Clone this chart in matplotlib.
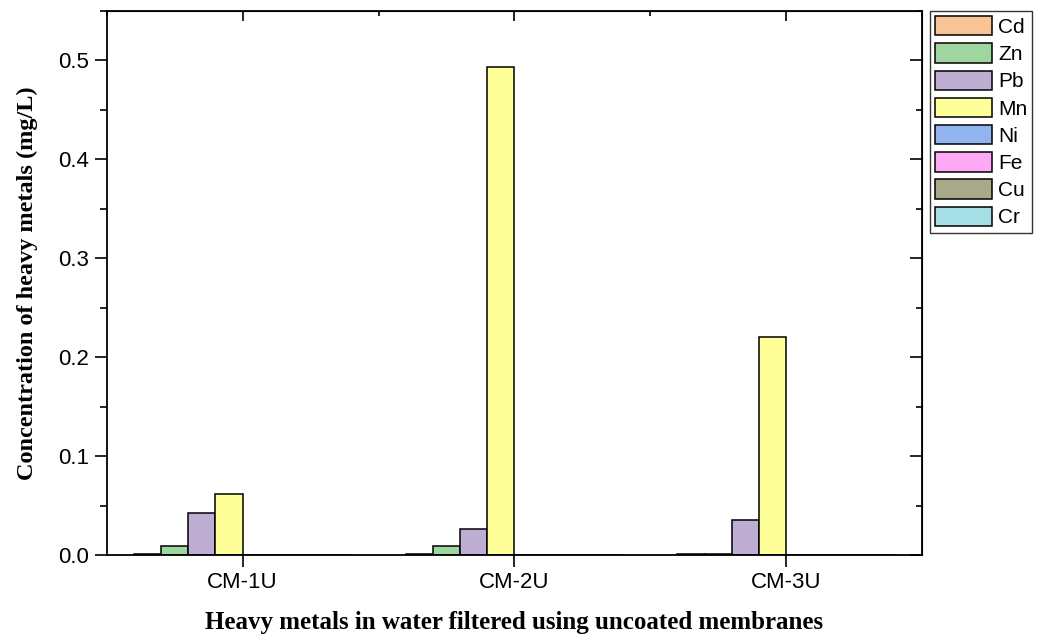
import matplotlib.pyplot as plt
import numpy as np
from matplotlib.ticker import MultipleLocator

samples = ['CM-1U', 'CM-2U', 'CM-3U']
metals = ['Cd', 'Zn', 'Pb', 'Mn', 'Ni', 'Fe', 'Cu', 'Cr']
cd = [0.001, 0.001, 0.001]
zn = [0.009, 0.009, 0.001]
pb = [0.042, 0.026, 0.035]
mn = [0.062, 0.493, 0.220]
ni = [0.0, 0.0, 0.0]
fe = [0.0, 0.0, 0.0]
cu = [0.0, 0.0, 0.0]
cr = [0.0, 0.0, 0.0]
values = [cd, zn, pb, mn, ni, fe, cu, cr]
colors = ['#F9C495', '#9FD59F', '#BEAED4', '#FFFF99', '#91B4F0', '#FFA8F5', '#A9A98A', '#A5DEE5']
yticks = [0, 0.1, 0.2, 0.3, 0.4, 0.5]
ytick_labels = ['0.0', '0.1', '0.2', '0.3', '0.4', '0.5']

fig = plt.figure(figsize=(10.37, 6.42), dpi=100)
ax = fig.add_axes([0.103, 0.1355, 0.786, 0.8475])

x = np.arange(len(samples))
w = 0.1
for i in range(len(metals)):
    ax.bar(x + (i - 3.5) * w, values[i], w, color=colors[i], edgecolor='black',
           linewidth=1.1, label=metals[i])

ax.set_xlim(-0.5, 2.5)
ax.set_ylim(0, 0.55)
ax.set_xticks(x)
ax.set_xticklabels(samples, fontfamily='Liberation Sans', fontsize=16)
ax.set_yticks(yticks)
ax.set_yticklabels(ytick_labels, fontfamily='Liberation Sans', fontsize=16)
ax.yaxis.set_minor_locator(MultipleLocator(0.05))
ax.tick_params(which='major', direction='out', length=8.5, width=1.2, pad=4)
ax.tick_params(which='minor', direction='out', length=5, width=1.2)
for s in ax.spines.values():
    s.set_linewidth(1.3)

# top and right ticks point inward
top = ax.secondary_xaxis('top')
top.set_xticks(x)
top.xaxis.set_minor_locator(MultipleLocator(0.5))
top.set_xticklabels([])
top.tick_params(which='major', direction='in', length=7.5, width=1.2)
top.tick_params(which='minor', direction='in', length=3.5, width=1.2)
right = ax.secondary_yaxis('right')
right.set_yticks(yticks)
right.yaxis.set_minor_locator(MultipleLocator(0.05))
right.set_yticklabels([])
right.tick_params(which='major', direction='in', length=9, width=1.2)
right.tick_params(which='minor', direction='in', length=4.5, width=1.2)

ax.set_xlabel('Heavy metals in water filtered using uncoated membranes',
              fontfamily='Liberation Serif', fontweight='bold', fontsize=18, labelpad=13)
ax.set_ylabel('Concentration of heavy metals (mg/L)',
              fontfamily='Liberation Serif', fontweight='bold', fontsize=17.5, labelpad=15)

leg = fig.legend(loc='upper left', bbox_to_anchor=(0.897, 0.983), frameon=True,
                 fancybox=False, edgecolor='black', handlelength=2.7, handleheight=1.05,
                 labelspacing=0.31, handletextpad=0.3, borderpad=0.25, borderaxespad=0,
                 prop={'family': 'Liberation Sans', 'size': 15})
leg.get_frame().set_linewidth(1.0)

plt.savefig('out.png', dpi=100)
